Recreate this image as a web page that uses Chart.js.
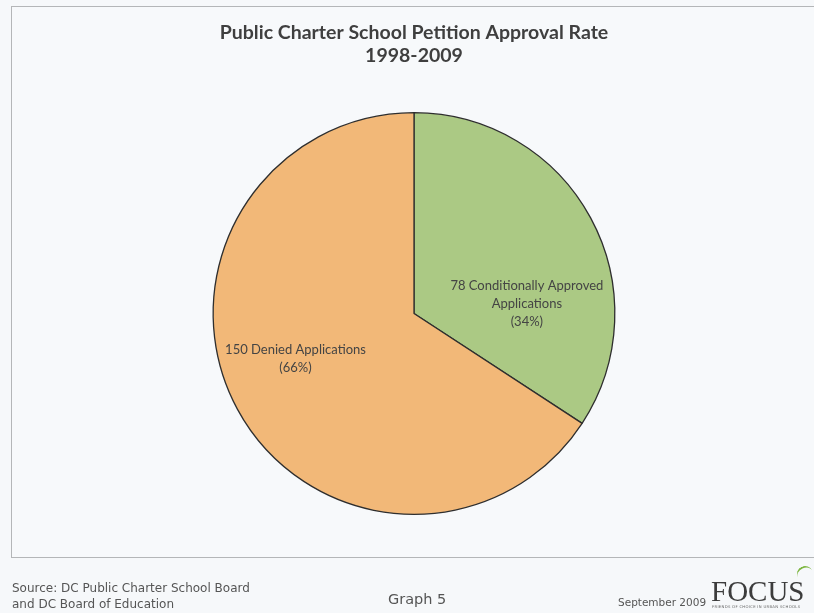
<!DOCTYPE html>
<html>
<head>
<meta charset="utf-8">
<title>Public Charter School Petition Approval Rate</title>
<style>
  html, body { margin: 0; padding: 0; background: #f6f8fa; }
  #wrap { position: relative; width: 814px; height: 613px; overflow: hidden; }
  #frame { position: absolute; left: 11px; top: 6px; width: 820px; height: 550px;
           border: 1.5px solid #b4b6b8; background: #f7f9fb; }
  #chart { position: absolute; left: 0; top: 0; }
  .foot { position: absolute; font-family: "DejaVu Sans", Verdana, sans-serif; color: #555; }
  #source { left: 12px; top: 581px; font-size: 12px; line-height: 15.5px; }
  #graph { left: 388px; top: 591px; font-size: 14.5px; }
  #date { left: 618px; top: 596px; font-size: 10.5px; }
  #logo { position: absolute; left: 711px; top: 578px; font-family: "Liberation Serif", "DejaVu Serif", serif;
          font-size: 29px; line-height: 26px; color: #3c3c3c; letter-spacing: 0px; }
  #tag { position: absolute; left: 712px; top: 604px; font-family: "DejaVu Sans", sans-serif; font-size: 3.8px;
         color: #666; letter-spacing: 0.3px; }
  #swoosh { position: absolute; left: 797px; top: 566px; width: 16px; height: 14px;
            border-top: 2.5px solid #7db641; border-radius: 50%; transform: rotate(-25deg); }
</style>
</head>
<body>
<div id="wrap">
  <div id="frame"></div>
  <canvas id="chart" width="814" height="613"></canvas>
  <div class="foot" id="source">Source: DC Public Charter School Board<br>and DC Board of Education</div>
  <div class="foot" id="graph">Graph 5</div>
  <div class="foot" id="date">September 2009</div>
  <div id="logo">FOCUS</div>
  <div id="swoosh"></div>
  <div id="tag">FRIENDS OF CHOICE IN URBAN SCHOOLS</div>
</div>

<script src="https://cdn.jsdelivr.net/npm/chart.js@4/dist/chart.umd.min.js"></script>
<script>
	// petition outcomes 1998-2009
	const categories = ["Conditionally Approved", "Denied"]
	const counts = [78, 150]
	const sliceLabels = [
		["78 Conditionally Approved", "Applications", "(34%)"],
		["150 Denied Applications", "(66%)"]
	]
	const sliceColors = ["#abc984", "#f2b878"]

	// label spots as fractions of the radius, measured from the pie centre
	const labelSpots = [[0.562, -0.05], [-0.59, 0.227]]
	const lineGap = 18

	const sliceText = {
		id: "sliceText",
		afterDatasetsDraw(chart) {
			const ctx = chart.ctx
			const meta = chart.getDatasetMeta(0)
			ctx.save()
			ctx.fillStyle = "#444"
			ctx.font = "13px Lato, 'Open Sans', sans-serif"
			ctx.textAlign = "center"
			ctx.textBaseline = "middle"
			meta.data.forEach((arc, i) => {
				const r = arc.outerRadius
				const x = arc.x + labelSpots[i][0] * r
				const lines = sliceLabels[i]
				const y0 = arc.y + labelSpots[i][1] * r - (lines.length - 1) * lineGap / 2
				lines.forEach((t, j) => ctx.fillText(t, x, y0 + j * lineGap))
			})
			ctx.restore()
		}
	}

	const chart = new Chart(document.getElementById("chart"), {
		type: "pie",
		data: {
			labels: categories,
			datasets: [{
				data: counts,
				backgroundColor: sliceColors,
				borderColor: "#2e2e2e",
				borderWidth: 1.3
			}]
		},
		options: {
			responsive: false,
			animation: false,
			layout: { padding: { left: 14, right: 0, top: 0, bottom: 98 } },
			plugins: {
				legend: { display: false },
				tooltip: { enabled: false },
				title: {
					display: true,
					text: ["Public Charter School Petition Approval Rate", "1998-2009"],
					color: "#3f3f3f",
					font: { family: "Lato, 'Open Sans', sans-serif", size: 19.5, weight: "bold", lineHeight: 1.18 },
					padding: { top: 21, bottom: 45 }
				}
			}
		},
		plugins: [sliceText]
	})
</script>
</body>
</html>
